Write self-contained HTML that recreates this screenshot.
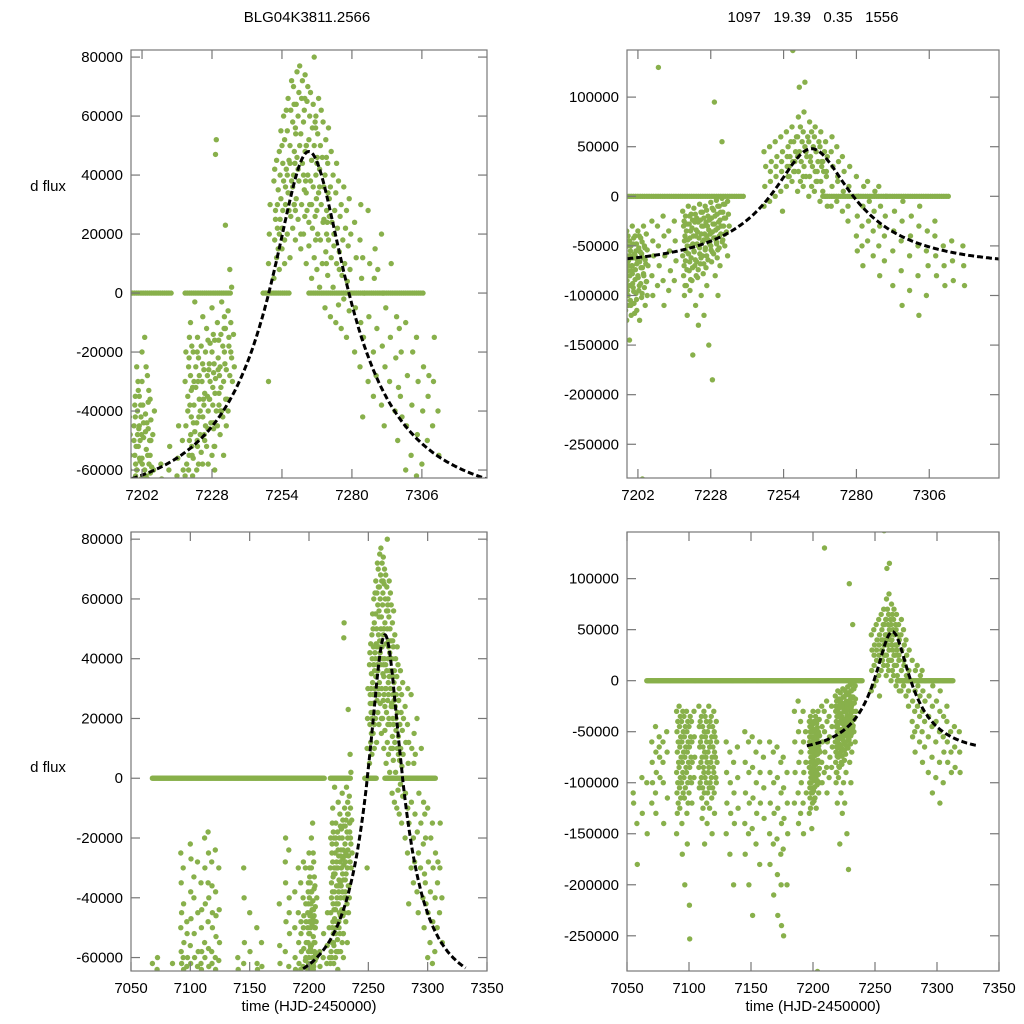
<!DOCTYPE html>
<html><head><meta charset="utf-8"><style>
body{margin:0;background:#fff}
svg{display:block;font-family:"Liberation Sans",sans-serif}
</style></head><body>
<svg id="chart" width="1024" height="1024" viewBox="0 0 1024 1024">
<rect width="1024" height="1024" fill="#fff"/>
<text x="307" y="22" font-size="15" text-anchor="middle">BLG04K3811.2566</text>
<text x="813" y="22" font-size="15" text-anchor="middle" xml:space="preserve">1097   19.39   0.35   1556</text>
<text x="48" y="191" font-size="15" text-anchor="middle">d flux</text>
<text x="48" y="772" font-size="15" text-anchor="middle">d flux</text>
<text x="309" y="1011" font-size="15" text-anchor="middle">time (HJD-2450000)</text>
<text x="813" y="1011" font-size="15" text-anchor="middle">time (HJD-2450000)</text>
</svg>
<script>
// flux values in thousands, columns "time:v v v|..."
const seriesA = "7068:-62|7072:-64 -60|7085:-62|7092:-25 -35 -45 -50 -58 -62|7094:-30 -42 -55 -60 -64|7097:-48 -52 -60 -63|7100:-22 -38 -47 -56 -62 -27|7103:-40 -52 -60 -33|7106:-28 -45 -58 -63|7109:-35 -50 -58 -62 -64 -44|7112:-20 -30 -42 -55 -60|7115:-18 -25 -40 -48 -57 -63 -35|7118:-28 -36 -50 -58 -62 -45|7121:-24 -38 -46 -60 -64 -53|7124:-30 -44 -55 -61|7140:-60 -64|7145:-30 -40 -55 -62|7150:-45 -58|7156:-50 -62 -64|7160:-55 -63|7175:-42 -56 -62|7180:-28 -35 -48 -58 -20|7183:-24 -40 -52 -63 -45|7188:-50 -60 -64 -38|7191:-45 -55 -62 -30|7193:-35 -48 -58 -64 -52|7195:-40 -50 -57 -63 -28 -46|7197:-30 -42 -55 -61 -60 -48|7199:-50 -55 -62 -45 -38 -58 -64|7200:-25 -40 -52 -60 -48 -33|7201:-45 -57 -63 -35 -50 -42|7202:-20 -38 -49 -56 -62 -44 -30|7203:-15 -41 -53 -60 -47 -64|7204:-28 -46 -58 -63 -37|7205:-36 -50 -59 -55 -43|7206:-48 -60 -40|7209:-58 -63|7212:-60 -52|7215:-62 -56 -45|7217:-50 -60|7218:-30 -45 -58 -62 -20|7219:-35 -25 -50 -40 -60 -15|7220:-28 -42 -55 -10 -33|7221:-20 -38 -47 -56 -30 -3|7222:-32 -44 -52 -25 -60 -15|7223:-22 -36 -48 -58 -28 -40|7224:-18 -30 -42 -54 -64 -8|7225:-26 -34 -45 -38 -50 -20|7226:-12 -28 -40 -52 -35 -58|7227:-24 -30 -44 -36 -17|7228:-20 -32 -46 -55 -38 -27 -5|7229:-16 -29 -40 -52 47 52 -60|7230:-10 -22 -34 -45 -26 -38|7231:-25 -14 -40 -48 -32 -3|7232:-18 -30 -8 -42 -55 -20|7233:-12 -26 -36 23 -45|7234:-6 -18 -28 -40 -15 8|7235:-10 -22 -30 -20 2|7236:-14 -25|7249:10 20 30 -30|7251:5 18 28 38 42 25|7252:12 22 35 45 30 15|7253:8 25 32 48 40 55 20|7254:15 28 38 50 44 60 22|7255:18 30 42 52 36 62 10|7256:20 34 45 55 66 28 40|7257:12 26 38 50 62 72 44|7258:22 40 48 58 70 30 36|7259:18 32 46 56 64 75 28|7260:25 38 50 60 68 77 42|7261:15 30 44 54 66 72 20|7262:20 35 48 58 62 74 40|7263:10 28 40 50 65 70 34|7264:16 30 38 52 60 68 24|7265:5 22 36 45 56 64 30|7266:12 26 40 50 58 60 80|7267:8 20 34 44 54 66 28|7268:2 18 30 42 50 62 36|7269:10 24 36 46 58 25|7270:-5 14 28 40 52 20|7271:6 18 32 44 56 26|7272:-8 12 24 36 48|7273:2 16 28 40 20|7274:-10 10 22 34 44|7275:-4 14 26 38 8|7276:-12 6 18 30|7277:-2 10 22 36|7278:-15 4 16 28|7279:-6 8 20 32|7281:-20 -5 12 24|7283:-25 -10 5 18 30|7284:-42 -15 0 12|7286:-30 -8 10 28|7288:-20 5 15 -35|7289:-28 -12 8|7291:-38 -18 0 20|7292:-45 -25 -5|7294:-30 -15 10|7296:-40 -22 -8|7297:-50 -32 -12|7298:-35 -20 -42|7300:-60 -45 -28 -10|7302:-55 -38 -20|7304:-62 -48 -30 -15|7306:-58 -40 -25|7308:-50 -35 -28|7310:-45 -30 -15|7312:-40 -55";
const seriesAExtra = "7199.5:-42 -52 -60 -35|7200.5:-30 -46 -56 -64|7201.5:-38 -48 -58|7203.5:-25 -44 -55 -62|7204.5:-33 -50 -61|7219.5:-22 -38 -48 -55|7220.5:-18 -32 -44 -52 -62|7222.5:-20 -30 -42 -50|7224.5:-24 -36 -48 -58|7226.5:-16 -26 -36 -46|7228.5:-14 -24 -34 -44 -52|7230.5:-16 -28 -40|7232.5:-12 -24 -36|7258.5:30 44 54 64|7262.5:26 38 50 66|7266.5:18 32 46 56|7270.5:10 24 34 46";
const seriesB = "7055:-110 -120|7058:-140 -180|7062:-95 -130|7066:-100 -150|7070:-60 -80 -100 -120|7073:-45 -70 -90 -110 -130|7076:-55 -75 -95 -65|7079:-60 -100 -140 -80|7082:-50 -70 -115|7090:-30 -50 -70 -90 -110 -130 -150|7092:-25 -45 -65 -85 -105 -125|7094:-40 -60 -80 -100 -140 -170|7096:-35 -55 -75 -95 -115 -200|7098:-30 -50 -70 -90 -130 -160|7100:-45 -65 -85 -110 -220 -253|7102:-40 -60 -80 -100 -120|7104:-30 -55 -75 -95|7108:-25 -45 -65 -85 -105|7110:-35 -55 -75 -95 -115 -135|7112:-30 -50 -70 -90 -110 -160|7114:-40 -60 -80 -100 -120 -140|7116:-25 -45 -65 -85 -105 -125|7118:-35 -55 -75 -95 -115 -150|7120:-30 -50 -70 -90 -110 -130|7122:-40 -60 -80 -100|7130:-60 -90 -120 -150|7133:-70 -100 -130 -170|7136:-80 -110 -140 -200|7139:-65 -95 -125|7145:-50 -80 -110 -140 -170|7148:-60 -90 -120 -150 -200|7151:-55 -85 -115 -145 -230|7154:-70 -100 -130 -160|7157:-60 -90 -120 -180|7160:-75 -105 -135|7165:-60 -90 -120 -150 -180|7168:-70 -100 -130 -160 -210|7171:-65 -95 -125 -155 -190 -230|7174:-80 -110 -140 -170 -200 -240|7176:-75 -105 -135 -165 -250|7179:-90 -120 -150 -200|7185:-30 -60 -90 -120|7188:-20 -50 -80 -110 -140|7190:-40 -70 -100 -130|7192:-30 -60 -90 -120 -150|7194:-50 -80 -110|7197:-40 -55 -70 -85 -100 -115 -130 -60|7198:-35 -50 -65 -80 -95 -110 -125 -75|7199:-45 -60 -75 -90 -105 -120 -145 -55|7200:-30 -48 -62 -78 -92 -108 -70|7201:-40 -55 -68 -84 -98 -115 -60|7202:-35 -52 -66 -80 -95 -125|7203:-42 -58 -72 -88 -102 -285|7204:-30 -50 -64 -78 -92 -110|7205:-38 -54 -70 -86 -100|7207:-25 -45 -60 -80 -100|7209:-30 -50 -70 -90 130|7211:-20 -40 -60 -85 -110|7213:-35 -55 -75 -95|7215:-25 -45 -65 -85|7218:-15 -30 -45 -60 -80 -100|7219:-20 -35 -50 -65 -90 -120|7220:-10 -28 -42 -58 -75 -95|7221:-18 -32 -48 -62 -85 -160|7222:-12 -26 -40 -55 -70 -110|7223:-22 -36 -50 -66 -82 -130|7224:-8 -24 -38 -52 -68 -100|7225:-16 -30 -44 -60 -78 -120|7226:-10 -26 -40 -54 -72 -90|7227:-20 -34 -48 -64 -150|7228:-6 -22 -36 -50 -66 -185|7229:-14 -28 -42 -58 95 -80|7230:-4 -18 -32 -46 -62 -100|7231:-10 -24 -38 -52 -70|7232:-2 -16 -30 55 -44|7233:-8 -22 -36 -50|7234:-5 -18 -30 -60|7247:-10 10 30 45|7249:-5 15 35 50 25|7251:0 20 40 55 30|7253:5 25 45 60 35 -15|7255:10 30 50 65 40 20|7257:15 35 55 70 147 25|7259:5 25 45 60 80 110 40|7261:10 30 50 65 85 115 20|7263:0 20 40 55 75 35|7265:5 25 45 60 70 15|7267:-5 15 35 50 65 30|7269:0 20 40 55 25 -10|7271:-10 10 30 45 60|7273:-5 15 35 50 20|7275:-15 5 25 40|7277:-10 10 30 -25|7280:-40 -20 0 20 -55|7282:-30 -10 10 -50 -70|7284:-45 -25 -5 15|7286:-35 -15 5 -60|7288:-50 -30 -10 10 -80|7290:-40 -20 0 -65|7293:-55 -35 -15 -90|7296:-45 -25 -5 -75 -110|7299:-60 -40 -20 -95|7302:-50 -30 -10 -80 -120|7305:-55 -35 -70 -100|7308:-40 -60 -80 -25|7311:-50 -70 -90|7314:-45 -65 -85|7318:-50 -70 -90";
const seriesBExtra = "7091:-40 -60 -80 -100 -120|7093:-35 -55 -75 -95 -115|7095:-30 -50 -70 -90 -110|7097:-45 -65 -85 -105|7099:-40 -60 -80 -100 -120|7101:-35 -55 -75 -95|7109:-40 -60 -80 -100|7111:-45 -65 -85 -105 -125|7113:-35 -55 -75 -95|7115:-50 -70 -90 -110|7117:-40 -60 -80 -100|7119:-45 -65 -85 -105|7121:-55 -75 -95|7197.5:-45 -65 -85 -105 -50 -90|7198.5:-40 -60 -80 -100 -70|7199.5:-50 -70 -88 -110 -62|7200.5:-42 -58 -74 -96 -118|7201.5:-48 -64 -82 -104|7202.5:-40 -56 -72 -90|7203.5:-46 -62 -80 -98|7204.5:-52 -68 -86|7218.5:-25 -40 -55 -70 -90|7219.5:-28 -44 -58 -74|7220.5:-20 -35 -50 -66 -84|7221.5:-24 -40 -56 -72|7222.5:-18 -34 -48 -64 -80|7223.5:-26 -42 -58 -74|7224.5:-16 -30 -46 -62|7225.5:-22 -38 -52 -68|7226.5:-14 -30 -44 -60|7227.5:-24 -38 -54|7228.5:-12 -28 -42 -56|7229.5:-20 -34 -48|7230.5:-10 -26 -40 -54|7231.5:-16 -30 -46|7232.5:-8 -22 -38|7256:20 40 55 30|7258:25 45 60 35|7260:15 35 55 70|7262:20 40 60 45|7264:10 30 50 65|7266:15 35 55 25|7268:5 25 45 35";
const zeroRangesA = [[7068,7213],[7218,7235],[7247,7257],[7264,7307]];
const zeroRangesB = [[7066,7240],[7268,7313]];
const modelParams = [7264, 0.25, 55, -71370, 38590]; // t0,u0,tE,F0,Fs
const modelRange = [7195, 7332];
const xTicksZoom = [7202, 7228, 7254, 7280, 7306];
const xTicksFull = [7050, 7100, 7150, 7200, 7250, 7300, 7350];
const yTicksLeft = [-60000, -40000, -20000, 0, 20000, 40000, 60000, 80000];
const yTicksRight = [-250000, -200000, -150000, -100000, -50000, 0, 50000, 100000];

const NS = "http://www.w3.org/2000/svg";
const svg = document.getElementById('chart');
function parse(s){const out=[];s.split('|').forEach(c=>{const [t,vs]=c.split(':');const tt=parseFloat(t);const arr=vs.trim().split(/\s+/).map(Number);arr.forEach((v,i)=>out.push([tt+(i%3)*0.3,v*1000]));});return out;}
function zeros(r){const out=[];r.forEach(([a,b])=>{for(let t=a;t<=b;t+=0.8)out.push([t,0]);});return out;}
function model(t){const [t0,u0,tE,F0,Fs]=modelParams;const d=(t-t0)/tE;const u=Math.sqrt(u0*u0+d*d);const A=(u*u+2)/(u*Math.sqrt(u*u+4));return F0+Fs*(A-1);}
function el(tag,attrs,parent){const e=document.createElementNS(NS,tag);for(const k in attrs)e.setAttribute(k,attrs[k]);(parent||svg).appendChild(e);return e;}
const dataA=zeros(zeroRangesA).concat(parse(seriesA)).concat(parse(seriesAExtra));
const dataB=zeros(zeroRangesB).concat(parse(seriesB)).concat(parse(seriesBExtra));
let clipId=0;
function panel(name,box,xd,yd,xt,yt,data){
  const [x0,y0,x1,y1]=box;
  const sx=t=>x0+(t-xd[0])/(xd[1]-xd[0])*(x1-x0);
  const sy=v=>y1-(v-yd[0])/(yd[1]-yd[0])*(y1-y0);
  const g=el('g',{});
  
  
  const cp=el('clipPath',{id:'c'+(++clipId)},g);el('rect',{x:x0,y:y0,width:x1-x0,height:y1-y0},cp);
  const pts=el('g',{'clip-path':'url(#c'+clipId+')',fill:'#88b04b'},g);
  
  
  data.forEach(([t,v])=>{const c=el('circle',{cx:sx(t).toFixed(1),cy:sy(v).toFixed(1),r:2.7},pts);
    
    });
  let d='';for(let t=modelRange[0];t<=modelRange[1];t+=0.5){d+=(d?'L':'M')+sx(t).toFixed(1)+','+sy(model(t)).toFixed(1);}
  const m=el('path',{d:d,fill:'none',stroke:'#000','stroke-width':3,'stroke-dasharray':'6,3','clip-path':'url(#c'+clipId+')'},g);
  
  
  const fr=el('rect',{x:x0,y:y0,width:x1-x0,height:y1-y0,fill:'none',stroke:'#777','stroke-width':1.2},g);
  
  
  xt.forEach(t=>{const x=sx(t);
    el('line',{x1:x,x2:x,y1:y1,y2:y1-9,stroke:'#777','stroke-width':1.2},g);
    el('line',{x1:x,x2:x,y1:y0,y2:y0+9,stroke:'#777','stroke-width':1.2},g);
    const tx=el('text',{x:x,y:y1+22,'font-size':15,'text-anchor':'middle'},g);tx.textContent=t;
    
    });
  yt.forEach(v=>{const y=sy(v);
    el('line',{x1:x0,x2:x0+9,y1:y,y2:y,stroke:'#777','stroke-width':1.2},g);
    el('line',{x1:x1,x2:x1-9,y1:y,y2:y,stroke:'#777','stroke-width':1.2},g);
    const tx=el('text',{x:x0-8,y:y+5,'font-size':15,'text-anchor':'end'},g);tx.textContent=v;
    
    });
}
panel('panel-top-left',[131,50,487,478],[7197.9,7330.2],[-62700,82400],xTicksZoom,yTicksLeft,dataA);
panel('panel-top-right',[627,50,999,478],[7198.1,7330.9],[-284000,147500],xTicksZoom,yTicksRight,dataB);
panel('panel-bottom-left',[131,532,487,971],[7050,7350],[-64500,82400],xTicksFull,yTicksLeft,dataA);
panel('panel-bottom-right',[627,532,999,971],[7050,7350],[-284500,145700],xTicksFull,yTicksRight,dataB);
</script>
</body></html>
